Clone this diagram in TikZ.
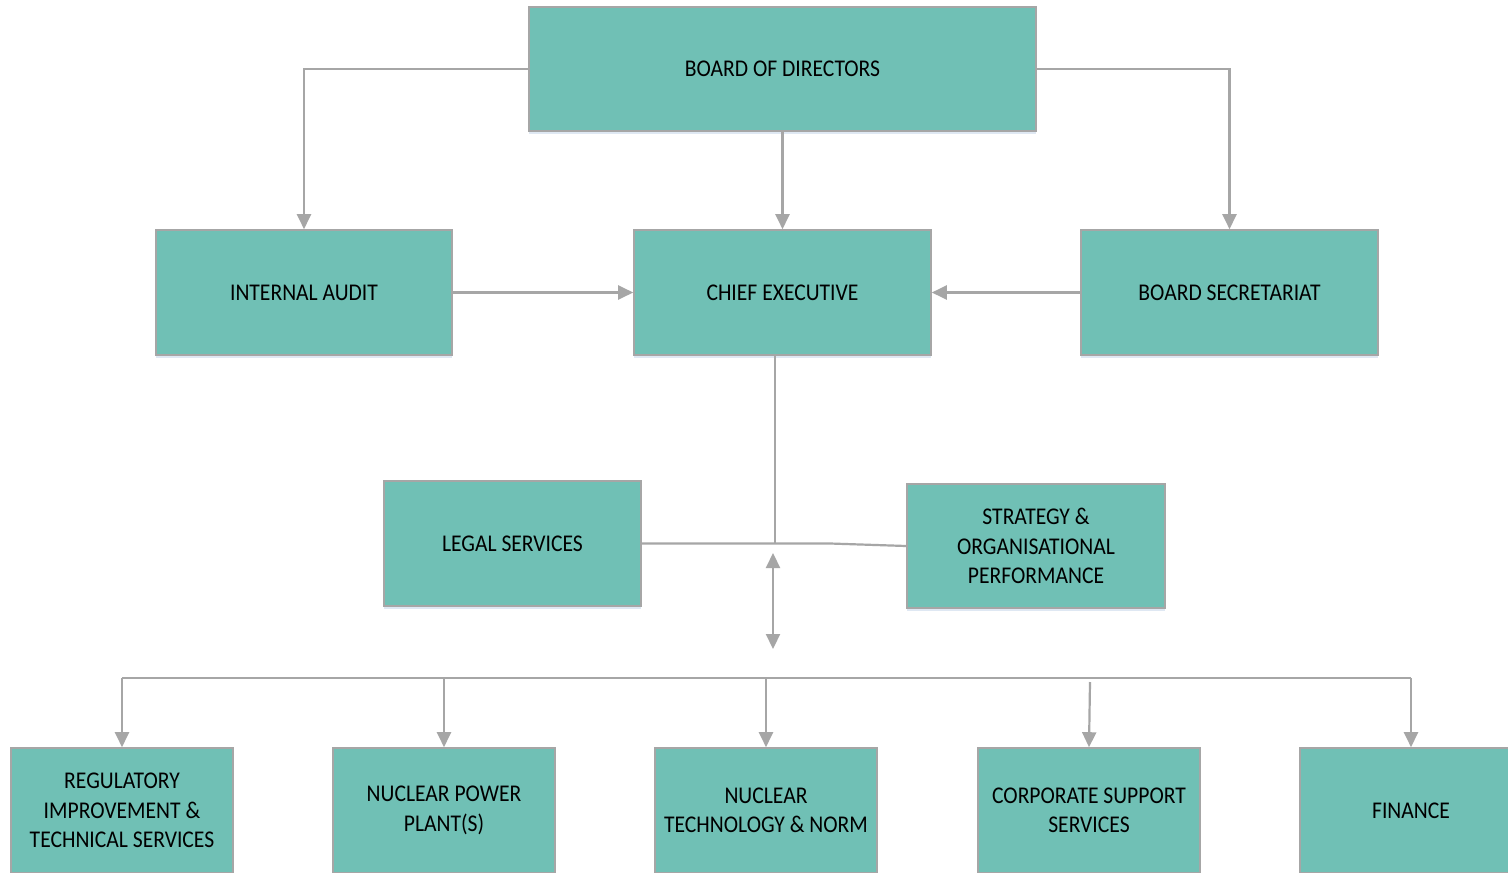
\documentclass[tikz,border=0pt]{standalone}
\usepackage{fontspec}
\setmainfont{Carlito}[FakeStretch=0.9]
\usetikzlibrary{arrows.meta,shadows}
\definecolor{boxfill}{HTML}{70C0B5}
\definecolor{edgegray}{HTML}{A6A6A6}
\definecolor{shadeblue}{HTML}{DCE6F2}
\begin{document}
\begin{tikzpicture}[x=1pt,y=-1pt,
  box/.style={draw=edgegray, line width=1.6pt, fill=boxfill, minimum width=#1,
    minimum height=125pt, align=center, inner sep=0pt, text=black,
    font=\fontsize{24}{29.5}\selectfont,
    drop shadow={shadow xshift=0pt, shadow yshift=-3pt, fill=shadeblue, opacity=0.9}},
  box/.default=297pt,
  conn/.style={draw=edgegray, line width=2.2pt},
  arr/.style={conn, -{Triangle[length=15pt,width=14pt]}},
  darr/.style={conn, {Triangle[length=15pt,width=14pt]}-{Triangle[length=15pt,width=14pt]}}]
\useasboundingbox (0,0) rectangle (1508,873);
\fill[white] (0,0) rectangle (1508,873);

\node[box=507pt, minimum height=124pt] (bod) at (782.5,69) {BOARD OF DIRECTORS};
\node[box=296pt] (ia) at (304,292.5) {INTERNAL AUDIT};
\node[box=297pt] (ce) at (782.5,292.5) {CHIEF EXECUTIVE};
\node[box=297pt] (bs) at (1229.5,292.5) {BOARD SECRETARIAT};
\node[box=257pt] (ls) at (512.5,543.5) {LEGAL SERVICES};
\node[box=258pt, minimum height=124pt] (sop) at (1036,546) {STRATEGY \&\\ORGANISATIONAL\\PERFORMANCE};

\node[box=222pt] (reg) at (122,810.5) {REGULATORY\\IMPROVEMENT \&\\TECHNICAL SERVICES};
\node[box=222pt] (npp) at (444,810.5) {NUCLEAR POWER\\PLANT(S)};
\node[box=222pt] (ntn) at (766,810.5) {NUCLEAR\\TECHNOLOGY \& NORM};
\node[box=222pt] (css) at (1089,810.5) {CORPORATE SUPPORT\\SERVICES};
\node[box=222pt] (fin) at (1411,810.5) {FINANCE};

% top connectors
\draw[arr] (bod.west) -| (ia.north);
\draw[arr] (bod.east) -| (bs.north);
\draw[arr] (bod.south) -- (ce.north);
\draw[arr] (ia.east) -- (ce.west);
\draw[arr] (bs.west) -- (ce.east);

% middle
\coordinate (j) at (775,543.5);
\coordinate (k) at (830,543.5);
\draw[conn] (ce.south -| j) -- (j);
\draw[conn] (ls.east) -- (k) -- (sop.west);
\coordinate (dtop) at (773,553);
\coordinate (dbot) at (773,649);
\draw[darr] (dtop) -- (dbot);

% bus
\coordinate (busL) at (122,678);
\coordinate (busR) at (1411,678);
\coordinate (cssTop) at (1090,682);
\draw[conn] (busL) -- (busR);
\draw[arr] (busL) -- (reg.north);
\draw[arr] (npp.north |- busL) -- (npp.north);
\draw[arr] (ntn.north |- busL) -- (ntn.north);
\draw[arr] (cssTop) -- (css.north);
\draw[arr] (busR) -- (fin.north);
\end{tikzpicture}
\end{document}
